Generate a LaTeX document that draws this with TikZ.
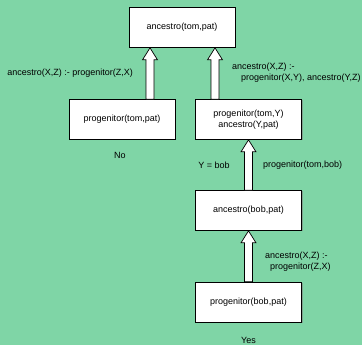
\documentclass[tikz,border=0pt]{standalone}
\usepackage{fontspec}
\setmainfont{Liberation Sans}
\usetikzlibrary{positioning,calc,shadows}

\definecolor{bggreen}{RGB}{127,213,166}

% vertical block arrow: from the y of #1 up to #2
\newcommand\upblock[2]{%
  \draw[blockarrow] let \p1=(#1), \p2=(#2) in
    (\x2-4pt,\y1) -- (\x2+4pt,\y1) -- (\x2+4pt,\y2-12pt) -- (\x2+7.5pt,\y2-12pt)
    -- (\x2,\y2) -- (\x2-7.5pt,\y2-12pt) -- (\x2-4pt,\y2-12pt) -- cycle;}

\begin{document}
\begin{tikzpicture}[x=1pt,y=1pt,font=\fontsize{9}{11}\selectfont,
                    goal/.style={draw=black,fill=white,line width=0.7pt,
                      minimum width=106pt,minimum height=40pt,align=center,
                      drop shadow={shadow xshift=1pt,shadow yshift=-1pt,opacity=0.6}},
                    blockarrow/.style={draw=black,fill=white,line width=0.7pt,line join=miter},
                    rule/.style={inner sep=0pt,align=left}]
  \fill[bggreen] (0,0) rectangle (362,345);
  \useasboundingbox (0,0) rectangle (362,345);

  \node[goal] (top) at (182,317.5) {ancestro(tom,pat)};
  \node[goal] (lp)  at (122,225.5) {progenitor(tom,pat)};
  \node[goal] (rp)  at (248.5,225.5) {progenitor(tom,Y)\\ancestro(Y,pat)};
  \node[goal] (ab)  at (248.5,134.5) {ancestro(bob,pat)};
  \node[goal] (pb)  at (248.5,43) {progenitor(bob,pat)};

  \upblock{lp.north}{[xshift=-32pt]top.south}
  \upblock{rp.north}{[xshift=33pt]top.south}
  \upblock{ab.north}{rp.south}
  \upblock{pb.north}{ab.south}

  \node[rule,anchor=east] (r1) at (133,272) {ancestro(X,Z) :- progenitor(Z,X)};
  \node[rule,anchor=west] (r2) at (232,272)
    {ancestro(X,Z) :-\\\hspace*{9pt}progenitor(X,Y), ancestro(Y,Z)};
  \node[rule] (no) at (120,190) {No};
  \node[rule] (sub) at (214,180) {Y = bob};
  \node[rule,anchor=west] (fact) at (263,180) {progenitor(tom,bob)};
  \node[rule,anchor=west] (r3) at (265,83.5)
    {ancestro(X,Z) :-\\\hspace*{5pt}progenitor(Z,X)};
  \node[rule,anchor=base] (yes) at (248.5,1.5) {Yes};
\end{tikzpicture}
\end{document}
